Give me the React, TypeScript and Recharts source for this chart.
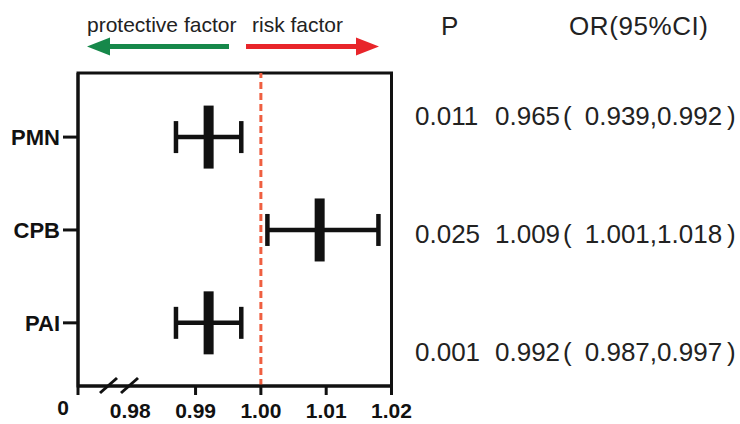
import React from 'react';
import { ScatterChart, Scatter, XAxis, YAxis, ErrorBar, ReferenceLine, ReferenceArea } from 'recharts';

const categories = ['PMN', 'CPB', 'PAI'];
const orValues = [0.992, 1.009, 0.992];
const ciLow = [0.987, 1.001, 0.987];
const ciHigh = [0.997, 1.018, 0.997];
const pLabels = ['0.011', '0.025', '0.001'];
const orEstimateLabels = ['0.965', '1.009', '0.992'];
const orIntervalLabels = ['0.939,0.992', '1.001,1.018', '0.987,0.997'];
const xTicks = [0.972, 0.98, 0.99, 1.0, 1.01, 1.02];
const xTickLabels = ['0', '0.98', '0.99', '1.00', '1.01', '1.02'];
const headers = ['P', 'OR(95%CI)'];
const directionLabels = ['protective factor', 'risk factor'];
const rowIds = [1, 2, 3];

const FONT = '"Liberation Sans", Arial, "Noto Sans CJK SC", sans-serif';
const INK = '#111';

const data = categories.map((name, i) => ({
  name,
  row: rowIds[i],
  or: orValues[i],
  err: [orValues[i] - ciLow[i], ciHigh[i] - orValues[i]],
}));

const XTick = (props: any) => {
  const { x, y, payload } = props;
  let idx = 0;
  let best = Infinity;
  xTicks.forEach((t, i) => {
    const d = Math.abs(t - payload.value);
    if (d < best) { best = d; idx = i; }
  });
  const isZero = idx === 0;
  const showLine = idx !== 1;
  return (
    <g>
      {showLine && <line x1={x} x2={x} y1={y - 9} y2={y} stroke={INK} strokeWidth={3} />}
      <text
        x={isZero ? x - 15 : x}
        y={isZero ? y + 20 : y + 23}
        textAnchor="middle"
        fontSize={21}
        fontWeight="bold"
        fill={INK}
        fontFamily={FONT}
      >
        {xTickLabels[idx]}
      </text>
    </g>
  );
};

const CenterMark = (props: any) => {
  const { cx, cy } = props;
  return <rect x={cx - 5} y={cy - 31.5} width={10} height={63} fill={INK} />;
};

export default function App() {
  return (
    <div style={{ position: 'absolute', left: 0, top: 0, width: 740, height: 424, background: '#fff' }}>
      <ScatterChart width={740} height={424} margin={{ top: 73, right: 348.5, left: 0, bottom: 0 }}>
        <XAxis
          type="number"
          dataKey="or"
          domain={[0.972, 1.02]}
          ticks={xTicks}
          interval={0}
          allowDataOverflow
          height={38}
          tickSize={9}
          tickMargin={0}
          tickLine={false}
          axisLine={{ stroke: INK, strokeWidth: 3 }}
          tick={<XTick />}
        />
        <YAxis
          type="number"
          dataKey="row"
          domain={[0.31, 3.68]}
          reversed
          ticks={rowIds}
          interval={0}
          allowDataOverflow
          width={78}
          tickSize={15}
          tickMargin={3}
          tickFormatter={(v: number) => categories[v - 1]}
          axisLine={{ stroke: INK, strokeWidth: 3 }}
          tickLine={{ stroke: INK, strokeWidth: 3 }}
          tick={{ fill: INK, fontSize: 22, fontWeight: 'bold', fontFamily: FONT }}
        />
        <ReferenceArea x1={0.972} x2={1.02} y1={0.31} y2={3.68} fill="none" stroke={INK} strokeWidth={3} />
        <ReferenceLine x={1.0} stroke="#ef5f40" strokeWidth={3} strokeDasharray="7 4" />
        <Scatter data={data} isAnimationActive={false} shape={<CenterMark />}>
          <ErrorBar dataKey="err" direction="x" width={16} stroke={INK} strokeWidth={4.5} isAnimationActive={false} />
        </Scatter>
      </ScatterChart>
      <svg width={740} height={424} style={{ position: 'absolute', left: 0, top: 0, pointerEvents: 'none' }}>
        <text x={87} y={32} fontSize={21} fill="#222" fontFamily={FONT}>{directionLabels[0]}</text>
        <text x={252} y={32} fontSize={21} fill="#222" fontFamily={FONT}>{directionLabels[1]}</text>
        <line x1={106} y1={46.5} x2={229} y2={46.5} stroke="#16884a" strokeWidth={5} />
        <polygon points="87,46.5 110,37.5 110,55.5" fill="#16884a" />
        <line x1={246} y1={46.5} x2={360} y2={46.5} stroke="#e8252a" strokeWidth={5} />
        <polygon points="379,46.5 356,37.5 356,55.5" fill="#e8252a" />
        <text x={441} y={35} fontSize={26} fill="#222" fontFamily={FONT}>{headers[0]}</text>
        <text x={569} y={35} fontSize={26} fill="#222" fontFamily={FONT} textLength={139} lengthAdjust="spacing">{headers[1]}</text>
        {pLabels.map((p, i) => (
          <text key={'p' + i} x={415} y={125 + i * 118} fontSize={26} fill="#222" fontFamily={FONT}>{p}</text>
        ))}
        {orEstimateLabels.map((t, i) => (
          <text key={'o' + i} x={495} y={125 + i * 118} fontSize={26} fill="#222" fontFamily={FONT}>
            {t}
            <tspan dx={3}>(</tspan>
            <tspan dx={13}>{orIntervalLabels[i]}</tspan>
            <tspan dx={5}>)</tspan>
          </text>
        ))}
        <line x1={100} y1={393} x2={117} y2={378} stroke={INK} strokeWidth={3} />
        <line x1={121} y1={393} x2={138} y2={378} stroke={INK} strokeWidth={3} />
      </svg>
    </div>
  );
}
